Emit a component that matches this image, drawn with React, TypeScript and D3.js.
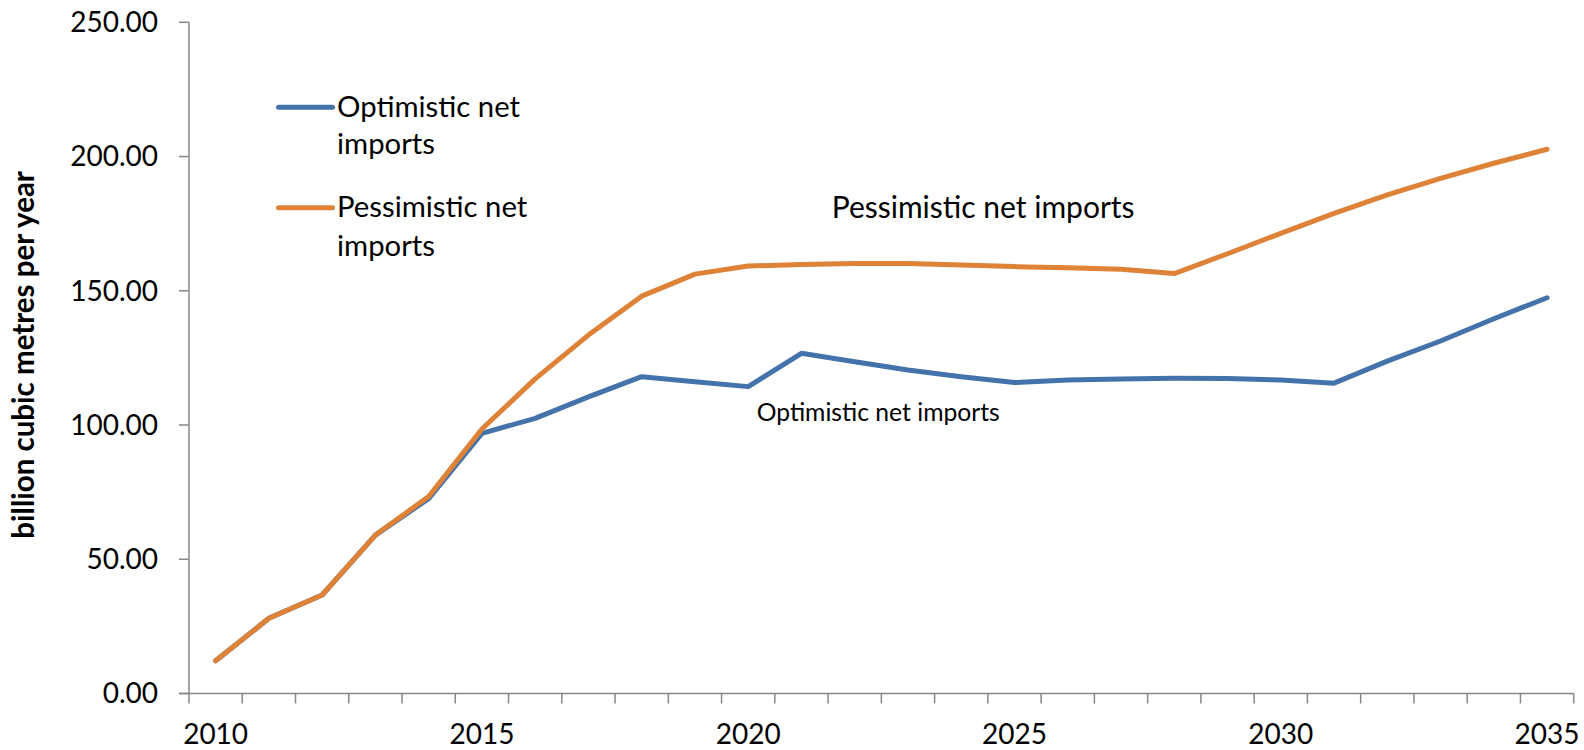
import React from "react";
import * as d3 from "d3";

const years: number[] = d3.range(2010, 2036);
const yearLabels: number[] = [2010, 2015, 2020, 2025, 2030, 2035];
const yTicks: number[] = [0, 50, 100, 150, 200, 250];

const optimistic: number[] = [
  12.2, 28.0, 36.7, 59.0, 72.6, 96.9, 102.5, 110.5, 118.0, 116.1,
  114.3, 126.7, 123.6, 120.5, 118.0, 115.8, 116.8, 117.1, 117.4, 117.3,
  116.8, 115.6, 123.8, 131.3, 139.6, 147.4,
];
const pessimistic: number[] = [
  12.2, 28.0, 36.7, 59.0, 73.4, 98.5, 117.2, 133.5, 148.0, 156.2,
  159.2, 159.8, 160.2, 160.2, 159.6, 159.0, 158.6, 158.0, 156.4, 163.8,
  171.4, 178.8, 185.7, 191.9, 197.5, 202.7,
];

const seriesNames = ["Optimistic net imports", "Pessimistic net imports"];
const BLUE = "#4472AA";
const ORANGE = "#DE8238";
const AXIS = "#878787";
const FONT = "Lato, 'Open Sans', sans-serif";

export default function App() {
  const W = 1584;
  const H = 750;
  const left = 189;
  const right = 1573.7;
  const top = 22.3;
  const bottom = 693.5;

  const x = d3.scaleBand<number>().domain(years).range([left, right]).padding(0);
  const cx = (yr: number) => (x(yr) as number) + x.bandwidth() / 2;
  const y = d3.scaleLinear().domain([0, 250]).range([bottom, top]);

  const line = d3
    .line<number>()
    .x((_, i) => cx(years[i]))
    .y((v) => y(v));

  const boundaries = years.map((yr) => x(yr) as number).concat([right]);

  return (
    <svg
      width={W}
      height={H}
      style={{ position: "absolute", left: 0, top: 0, display: "block", background: "#fff" }}
    >
      {/* Y axis */}
      <line x1={left} x2={left} y1={top} y2={bottom} stroke={AXIS} strokeWidth={1.5} />
      {yTicks.map((t) => (
        <g key={t}>
          <line x1={left - 10} x2={left} y1={y(t)} y2={y(t)} stroke={AXIS} strokeWidth={1.5} />
          <text
            x={158}
            y={y(t)}
            dy="0.35em"
            textAnchor="end"
            fontFamily={FONT}
            fontSize={28}
            fill="#000"
          >
            {t.toFixed(2)}
          </text>
        </g>
      ))}
      {/* X axis */}
      <line x1={left - 10} x2={right} y1={bottom} y2={bottom} stroke={AXIS} strokeWidth={1.5} />
      {boundaries.map((b, i) => (
        <line key={i} x1={b} x2={b} y1={bottom} y2={bottom + 10} stroke={AXIS} strokeWidth={1.5} />
      ))}
      {yearLabels.map((yr) => (
        <text
          key={yr}
          x={cx(yr)}
          y={744}
          textAnchor="middle"
          fontFamily={FONT}
          fontSize={28}
          fill="#000"
        >
          {yr}
        </text>
      ))}
      {/* Y title */}
      <text
        transform={`translate(34, ${(top + bottom) / 2 - 3}) rotate(-90)`}
        textAnchor="middle"
        fontFamily={FONT}
        fontWeight="bold"
        fontSize={29.5}
        fill="#000"
      >
        billion cubic metres per year
      </text>

      {/* Series */}
      <path d={line(optimistic) || ""} fill="none" stroke={BLUE} strokeWidth={5} strokeLinejoin="round" strokeLinecap="round" />
      <path d={line(pessimistic) || ""} fill="none" stroke={ORANGE} strokeWidth={5} strokeLinejoin="round" strokeLinecap="round" />

      {/* Legend */}
      <line x1={278.5} x2={332.5} y1={107.3} y2={107.3} stroke={BLUE} strokeWidth={5} strokeLinecap="round" />
      <text x={337} y={117.3} fontFamily={FONT} fontSize={29.3} fill="#000">
        <tspan x={337}>Optimistic net</tspan>
        <tspan x={337} y={154}>imports</tspan>
      </text>
      <line x1={278.5} x2={332.5} y1={207.7} y2={207.7} stroke={ORANGE} strokeWidth={5} strokeLinecap="round" />
      <text x={337} y={217.3} fontFamily={FONT} fontSize={29.3} fill="#000">
        <tspan x={337}>Pessimistic net</tspan>
        <tspan x={337} y={255.7}>imports</tspan>
      </text>

      {/* Annotations */}
      <text x={831.7} y={218.3} fontFamily={FONT} fontSize={30} fill="#000">
        {seriesNames[1]}
      </text>
      <text x={756.7} y={420.5} fontFamily={FONT} fontSize={24.7} fill="#000">
        {seriesNames[0]}
      </text>
    </svg>
  );
}
